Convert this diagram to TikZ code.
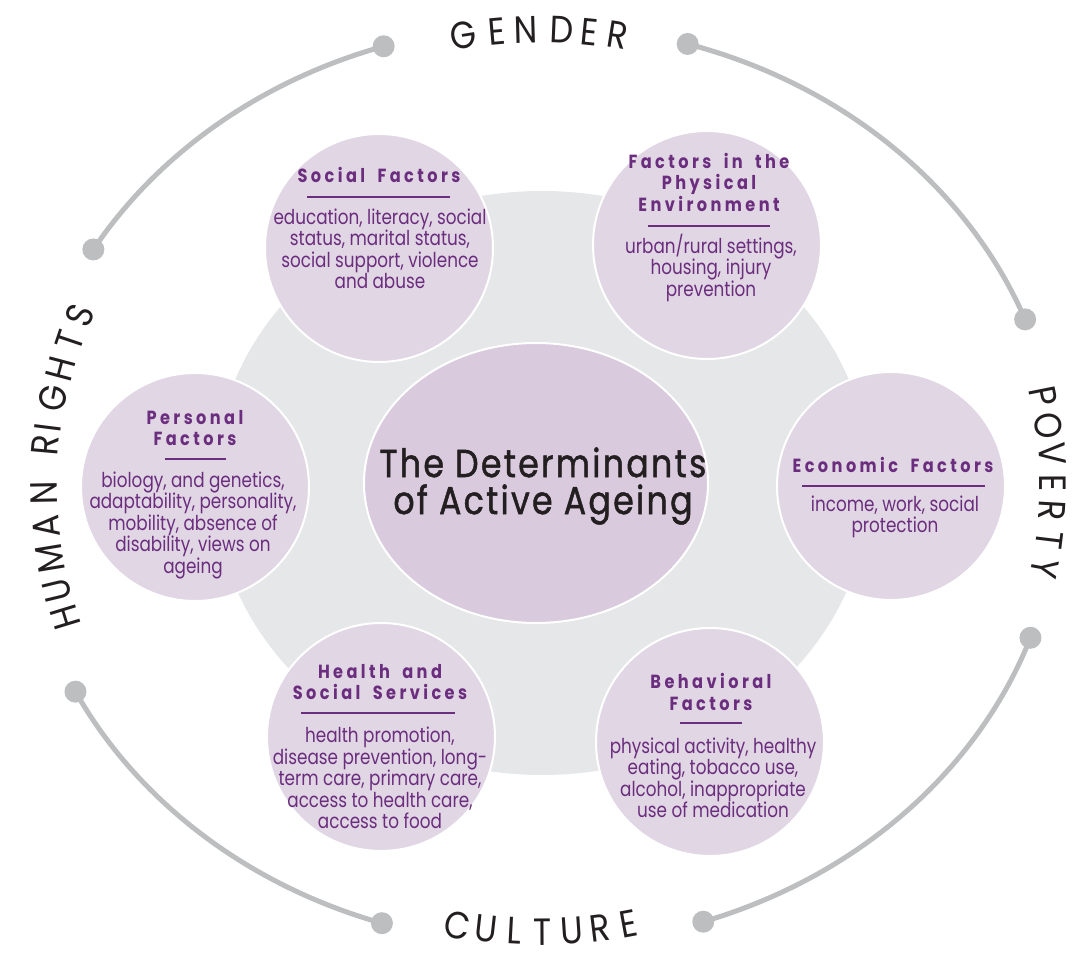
\documentclass[tikz,border=0pt]{standalone}
\usepackage{fontspec}
\setmainfont{Poppins}[FakeStretch=0.82]
\newfontfamily\headfont{Poppins}[FakeStretch=0.85, LetterSpace=18, WordSpace=1.8]
\newfontfamily\hubfont{Poppins}[FakeStretch=0.85, LetterSpace=6, FakeBold=1.2]
\newfontfamily\ringfont{Poppins}[FakeStretch=0.88]
\usetikzlibrary{calc, shapes.geometric}
\definecolor{ringgrey}{HTML}{BCBEC0}
\definecolor{backgrey}{HTML}{E6E7E8}
\definecolor{hubfill}{HTML}{D9CADD}
\definecolor{factorfill}{HTML}{E1D6E4}
\definecolor{factortext}{HTML}{6B2D7E}
\definecolor{inkblack}{HTML}{231F20}
\tikzset{
  factor/.style = {circle, minimum size=228pt, inner sep=0pt, fill=factorfill, draw=white, line width=2pt},
  head/.style = {text=factortext, align=center, font=\headfont\bfseries\fontsize{19}{21.5}\selectfont},
  blurb/.style = {text=factortext, align=center, font=\fontsize{20.5}{21.5}\selectfont},
  divider/.style = {factortext, line width=1.6pt},
  ringline/.style = {ringgrey, line width=5pt},
  ringdot/.style = {circle, fill=ringgrey, minimum size=22pt, inner sep=0pt},
  ringletter/.style = {anchor=base, inner sep=0pt, text=inkblack, font=\ringfont\fontsize{38}{38}\selectfont}
}

\begin{document}
\begin{tikzpicture}[x=1pt, y=1pt]
\useasboundingbox (0,0) rectangle (1079,956);
\coordinate (ring) at (540,471);

\node[ellipse, minimum width=656pt, minimum height=584pt, inner sep=0pt, fill=backgrey] (backdrop) at (542,473) {};
\node[ellipse, minimum width=344pt, minimum height=280pt, inner sep=0pt, fill=hubfill, draw=white, line width=2pt] (hub) at (536,473) {};
\node[font=\hubfont\fontsize{39}{37}\selectfont, text=inkblack, align=center] (title) at (543,470) {The Determinants\\of Active Ageing};

\node[factor] (social) at (379,708) {};
\node[factor] (physical) at (707,711) {};
\node[factor] (personal) at (195,469) {};
\node[factor] (economic) at (891,470) {};
\node[factor] (health) at (381,219) {};
\node[factor] (behavioral) at (710,214) {};

\node[head] (socialhead) at (379,781) {Social Factors};
\draw[divider] (307,759) -- (450,759);
\node[blurb] (socialtext) at (380,707) {education, literacy, social\\status, marital status,\\social support, violence\\and abuse};

\node[head] (physicalhead) at (709,774) {Factors in the\\Physical\\Environment};
\draw[divider] (648,730) -- (770,730);
\node[blurb] (physicaltext) at (711,688) {urban/rural settings,\\housing, injury\\prevention};

\node[head] (personalhead) at (195,528) {Personal\\Factors};
\draw[divider] (165,497) -- (226,497);
\node[blurb] (personaltext) at (193,431) {biology, and genetics,\\adaptability, personality,\\mobility, absence of\\disability, views on\\ageing};

\node[head] (economichead) at (893,491) {Economic Factors};
\draw[divider] (802,470) -- (985,470);
\node[blurb] (economictext) at (895,439) {income, work, social\\protection};

\node[head] (healthhead) at (380,274) {Health and\\Social Services};
\draw[divider] (301,243) -- (455,243);
\node[blurb] (healthtext) at (380,178) {health promotion,\\disease prevention, long-\\term care, primary care,\\access to health care,\\access to food};

\node[head] (behavioralhead) at (711,264) {Behavioral\\Factors};
\draw[divider] (680,233) -- (742,233);
\node[blurb] (behavioraltext) at (713,178) {physical activity, healthy\\eating, tobacco use,\\alcohol, inappropriate\\use of medication};

\node[ringdot] (genderleft) at ($(ring)+(107.5:520 and 460)$) {};
\node[ringdot] (genderright) at ($(ring)+(73.5:520 and 460)$) {};
\node[ringdot] (povertyupper) at ($(ring)+(21.1:520 and 460)$) {};
\node[ringdot] (povertylower) at ($(ring)+(-19.4:520 and 460)$) {};
\node[ringdot] (cultureright) at ($(ring)+(-71.7:520 and 460)$) {};
\node[ringdot] (cultureleft) at ($(ring)+(252.3:520 and 460)$) {};
\node[ringdot] (rightslower) at ($(ring)+(206.7:520 and 460)$) {};
\node[ringdot] (rightsupper) at ($(ring)+(149.2:520 and 460)$) {};

\draw[ringline] (genderleft.center) arc[start angle=107.5, end angle=149.2, x radius=520, y radius=460];
\draw[ringline] (genderright.center) arc[start angle=73.5, end angle=21.1, x radius=520, y radius=460];
\draw[ringline] (povertylower.center) arc[start angle=-19.4, end angle=-71.7, x radius=520, y radius=460];
\draw[ringline] (rightslower.center) arc[start angle=206.7, end angle=252.3, x radius=520, y radius=460];

\foreach \ch/\ang [count=\i] in {G/98.9, E/95.0, N/91.6, D/87.5, E/84.3, R/80.9}
  \node[ringletter, rotate=\ang-90] (gender\i) at ($(ring)+(\ang:480 and 442)$) {\ch};
\foreach \ch/\ang [count=\i] in {H/197.0, U/193.5, M/189.3, A/185.2, N/181.0, R/175.0, I/172.8, G/168.9, H/165.1, T/161.4, S/158.1}
  \node[ringletter, rotate=\ang-90] (rights\i) at ($(ring)+(\ang:483 and 440)$) {\ch};
\foreach \ch/\ang [count=\i] in {P/11.27, O/7.57, V/3.91, E/0.26, R/-3.26, T/-6.92, Y/-10.61}
  \node[ringletter, rotate=\ang-90] (poverty\i) at ($(ring)+(\ang:500 and 440)$) {\ch};
\foreach \ch/\ang [count=\i] in {C/260.2, U/263.6, L/267.0, T/270.3, U/273.7, R/277.1, E/280.5}
  \node[ringletter, rotate=\ang-270] (culture\i) at ($(ring)+(\ang:500 and 460)$) {\ch};
\end{tikzpicture}
\end{document}
